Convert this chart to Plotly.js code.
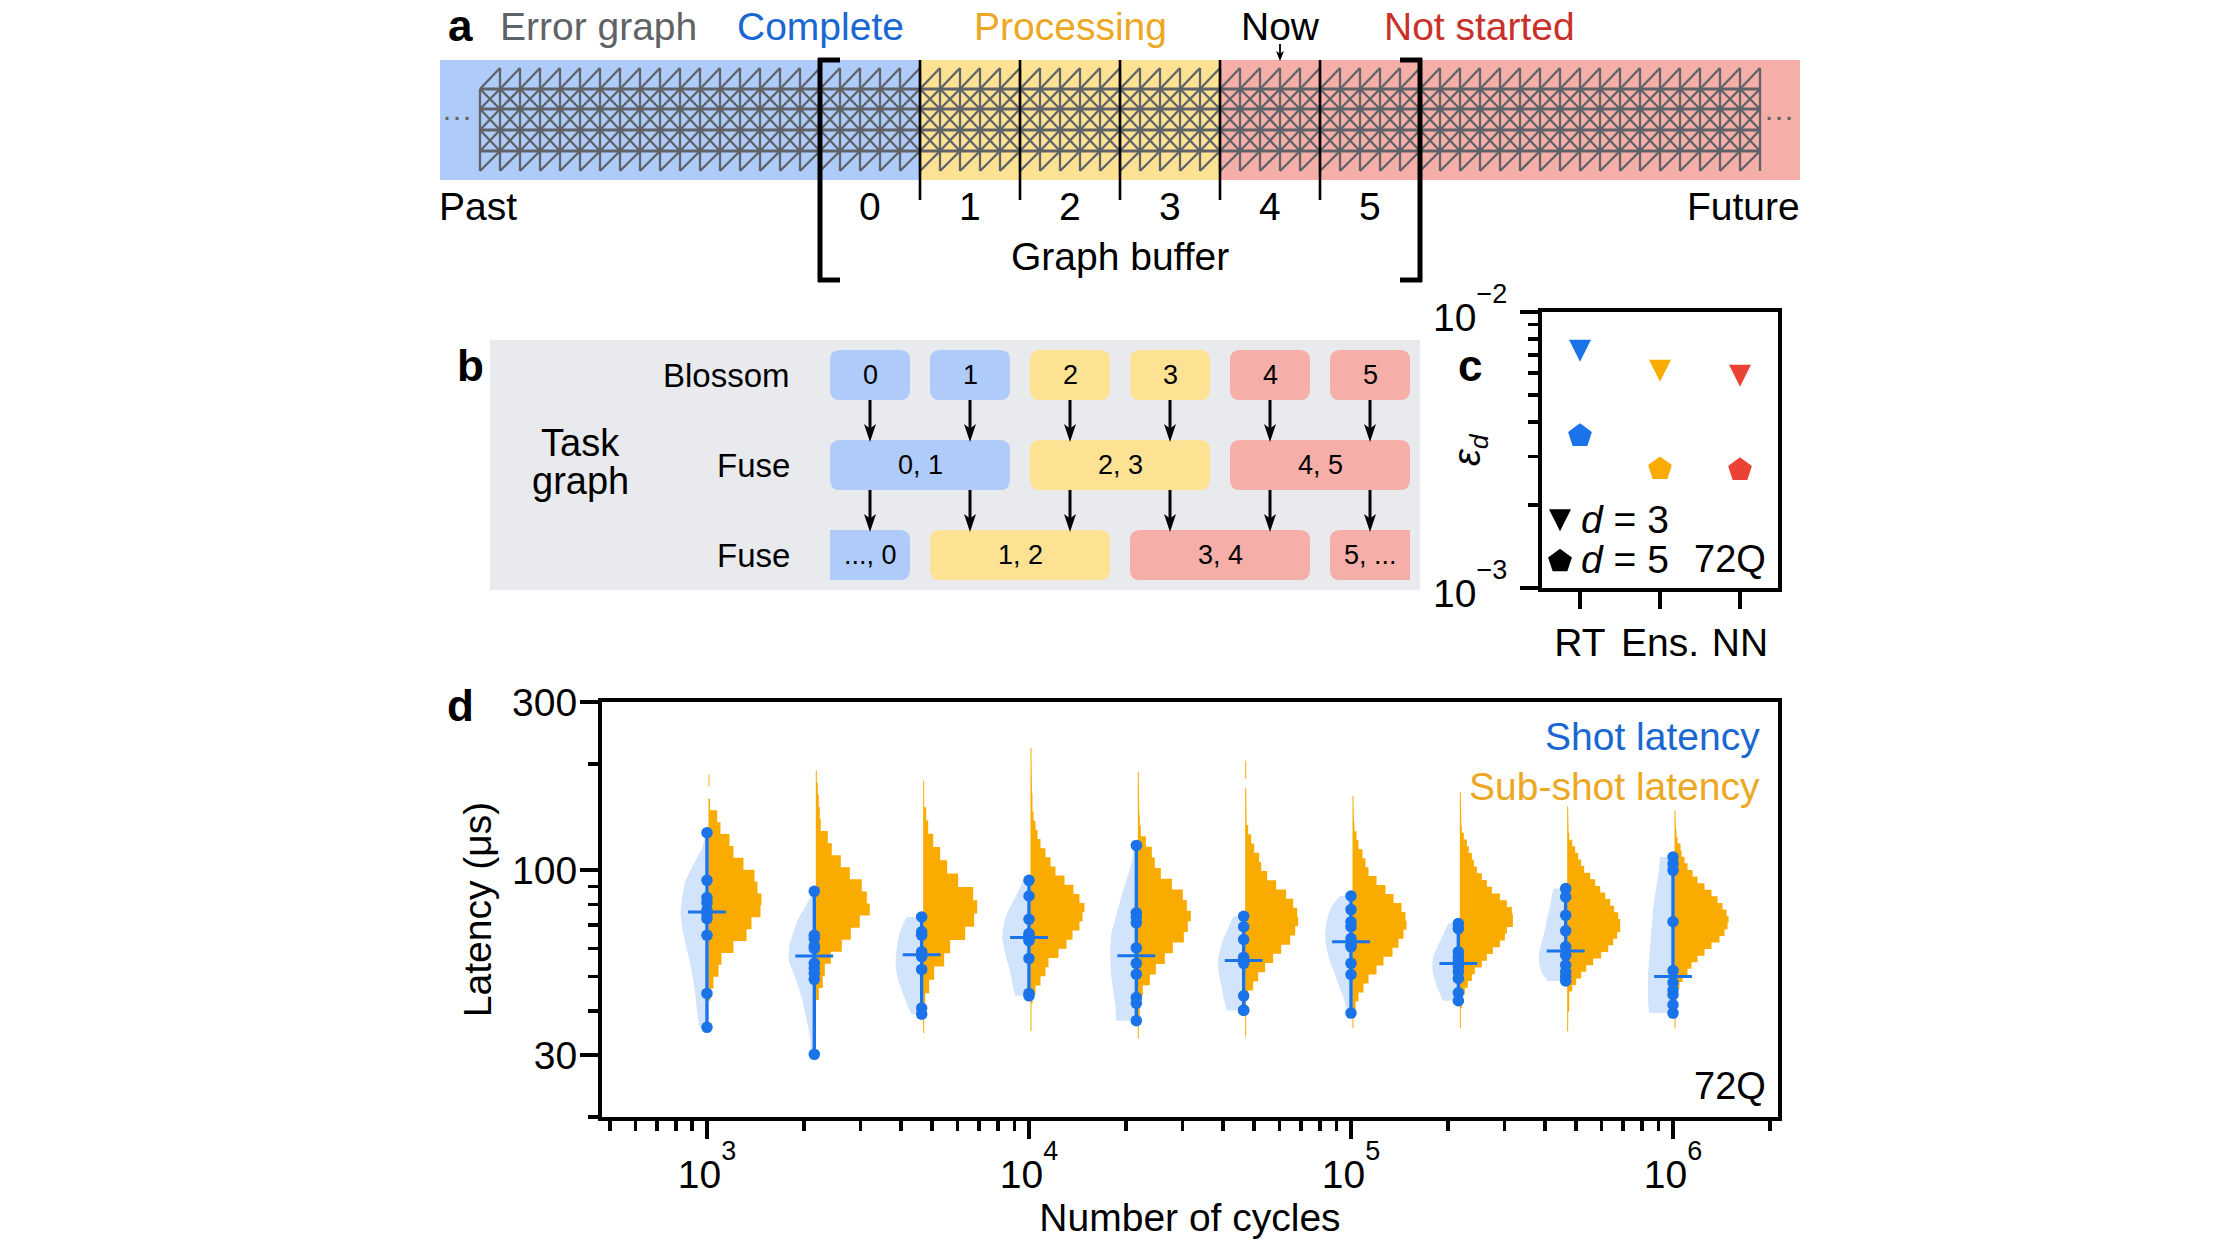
<!DOCTYPE html>
<html><head><meta charset="utf-8">
<script src="https://cdn.plot.ly/plotly-3.0.1.min.js"></script>
<style>html,body{margin:0;padding:0;background:#fff}#p{width:2240px;height:1260px}</style>
</head><body><div id="p"></div>
<script>
// ---------- colours
const BLUE='#1a73e8', YEL='#f9ab00', RED='#ea4335', GREY='#5f6368';
const TXT_BLUE='#1967d2', TXT_YEL='#eca824', TXT_RED='#c9302a';
const L_BLUE='#aecbfa', L_YEL='#fde293', L_RED='#f6aea9', PANEL='#e8eaed', VIOLIN='#d2e3fc';

// ---------- panel c: logical error per round
const decoders=['RT','Ens.','NN'];
const decoderColors=[BLUE,YEL,RED];
const epsD3=[7.24e-3,6.13e-3,5.88e-3];
const epsD5=[3.56e-3,2.70e-3,2.68e-3];

// ---------- panel d: latency vs number of cycles
const cycles=[1000,2154,4642,10000,21544,46416,100000,215443,464159,1000000];
const shotLatency=[
 [127.8,93.7,83.7,80.9,77.1,75.4,73.0,65.5,44.8,35.9],
 [87.2,65.5,64.1,61.0,60.1,54.5,52.8,51.1,49.1,30.1],
 [73.8,67.0,65.5,58.8,57.9,57.5,56.9,52.4,40.7,39.1],
 [93.7,84.6,72.7,66.2,65.1,64.0,63.2,56.3,44.8,44.1],
 [117.7,75.8,73.8,71.0,60.3,54.5,50.8,43.6,42.0,37.5],
 [74.1,69.2,63.7,56.7,55.9,55.2,54.5,44.1,40.2,40.1],
 [84.6,77.4,71.5,69.2,64.1,61.4,60.7,54.5,50.7,39.4],
 [70.7,68.4,58.8,56.9,55.7,53.3,51.6,49.4,45.0,42.7],
 [88.8,84.1,74.6,67.4,60.7,57.5,53.9,51.6,50.0,48.6],
 [109.1,104.4,100,71.5,52.0,48.1,45.8,44.4,41.6,39.4]
];
// half-violin widths, evenly spaced in log latency from the largest to the smallest shot
const shotViolin=[
 [1,5,14,22,25,26.5,24.5,21,17,14,11.5,10,7.5],
 [1,8,16,21,25,26,21,16,12,9,6,4,3],
 [15,19,22,24,25,26,26,25,23,20,17,14,10],
 [6,10,15,20,24,26,27,25,23,20,18,16,14],
 [3,4,8,13,17,21,25,26,26,25,23,21,20],
 [10,14,17,21,23,25,26,25,24,22,21,19,17],
 [11,19,23,25,26,25,23,20,16,13,9,6,3],
 [10,13,16,19,22,25,26,26,25,23,21,18,16],
 [12,14,15,17,19,20,22,24,26,27,26,24,18],
 [13,14,16,18,20,21,22,23,24,25,25,25,24]
];
// sub-shot histograms: latency span of the bins and bin heights
const subTop=[186.7,191.6,179.6,223,189.6,204.5,162.9,166.4,151.6,147.7];
const subBottom=[42.8,42.9,34.6,35,33.4,33.8,35.7,35.7,35,35.7];
const subCounts=[
 [1,0,1.5,8.7,12,21,25,35,46,49,53,52,43,38,25,13,10,5,2],
 [1,2,3,4,5,12,16,25,34,46,51,54,44,35,26,15,9,7,3],
 [1,1,3,5,10,17,24,35,50,54,51,42,27,21,11,6,2,1,1],
 [1,1,1,1,1.5,2,2,3,5,7,10,15,20,25,34,43,49,54,52,49,42,36,28,18,15,10,5,2,1,1,1],
 [1,1,1,1.5,2,3,8,14,17,23,34,45,49,53,50,46,35,27,18,12,5,2,2,1,1],
 [1,1,0,1,1,1,1.5,3,6,9,14,16,22,31,41,48,52,53,50,45,36,28,20,13,8,3,1,1,1,1],
 [1,1,1.5,2,4,6,10,13,16,24,33,41,49,53,54,51,46,40,31,24,16,11,6,3,1,1],
 [1,1,1,1,1.5,2,4,7,9,12,14,17,22,27,32,40,47,52,53,53,47,45,40,33,27,22,15,12,8,5,3,2,1,1,1],
 [1,1,1,1.5,2,5,8,11,14,17,23,28,33,38,43,47,51,53,53,50,46,41,34,26,19,14,9,5,2,2,2,1,1,1],
 [1,1,1.5,2,3,6,7,10,13,18,23,30,37,43,48,52,54,53,50,45,37,30,23,17,13,8,5,2,2,1,1,1,1]
];

// ---------- panels a, b: schematic (page units on a full-page axis)
const sliceLabels=['0','1','2','3','4','5'];
const sliceStatus=[L_BLUE,L_BLUE,L_YEL,L_YEL,L_RED,L_RED];
const sliceEdges=[820,920,1020,1120,1220,1320,1420];
const fuseA=[['0, 1',0,1],['2, 3',2,3],['4, 5',4,5]];
const fuseB=[['..., 0',0,0],['1, 2',1,2],['3, 4',3,4],['5, ...',5,5]];
const fuseBColors=[L_BLUE,L_YEL,L_RED,L_RED];
const latticeRows=[89,109,130,151];

// ---------- axis ticks
const PX_PER_DECADE=322;
const decadeMinors=(lo,hi)=>{const o=[];for(let e=lo;e<=hi;e++)for(let m=2;m<=9;m++)o.push(m*Math.pow(10,e));return o;};
const powerLabel=(e)=>`10<sup><sup><span style="font-size:27px">${e}</span></sup></sup>`;

const traces=[];
// ---- error graph lattice
(function(){
 const hx=[],hy=[],dx=[],dy=[];
 const x0=480,x1=1760,step=20,top=68,bot=171;
 latticeRows.forEach(r=>{hx.push(x0,x1,null);hy.push(r,r,null);});
 const R=latticeRows;
 for(let x=x0;x<=x1;x+=step){
  dx.push(x,x,null);dy.push(R[0],R[3],null);
  dx.push(x,x,null);dy.push(R[3],bot,null);
  if(x<x1){
   dx.push(x,x+step,null);dy.push(R[0],top,null);
   dx.push(x+step,x+step,null);dy.push(top,R[0],null);
   dx.push(x,x+step,null);dy.push(bot,R[3],null);
   for(let i=0;i<3;i++){
    dx.push(x,x+step,null);dy.push(R[i],R[i+1],null);
    dx.push(x,x+step,null);dy.push(R[i+1],R[i],null);
   }
  }
 }
 traces.push({x:dx,y:dy,mode:'lines',line:{color:GREY,width:2.3},xaxis:'x',yaxis:'y'});
 traces.push({x:hx,y:hy,mode:'lines',line:{color:GREY,width:3},xaxis:'x',yaxis:'y'});
})();

// ---- panel c: d=3 down-triangles are filled on the axes so that they stay as tall as they are wide
const TRI_X=11/80, TRI_Y=Math.pow(10,11/276);
const downTriangle=(cat,val,col)=>({x:[cat-TRI_X,cat+TRI_X,cat,cat-TRI_X],y:[val*TRI_Y,val*TRI_Y,val/TRI_Y,val*TRI_Y],mode:'lines',fill:'toself',fillcolor:col,line:{width:0,color:col},xaxis:'x2',yaxis:'y2'});
epsD3.forEach((v,i)=>traces.push(downTriangle(i,v,decoderColors[i])));
traces.push({x:[0,1,2],y:epsD5,mode:'markers',xaxis:'x2',yaxis:'y2',marker:{symbol:'pentagon',size:25,color:decoderColors}});
traces.push(downTriangle(-0.25,1.76e-3,'#000'));
traces.push({x:[-0.25],y:[1.25e-3],mode:'markers',xaxis:'x2',yaxis:'y2',marker:{symbol:'pentagon',size:25,color:'#000'}});

// ---- panel d
const shiftX=(c,px)=>c*Math.pow(10,px/PX_PER_DECADE);
cycles.forEach((c,g)=>{
 const pts=shotLatency[g], hi=Math.max(...pts), lo=Math.min(...pts);
 // violin
 const w=shotViolin[g], vx=[c], vy=[hi];
 w.forEach((v,i)=>{vx.push(shiftX(c,-v));vy.push(hi*Math.pow(lo/hi,i/(w.length-1)));});
 vx.push(c);vy.push(lo);
 traces.push({x:vx,y:vy,mode:'lines',fill:'toself',fillcolor:VIOLIN,line:{width:0,color:VIOLIN},xaxis:'x3',yaxis:'y3'});
 // histogram
 const cnt=subCounts[g], n=cnt.length, hx=[c],hy=[subTop[g]];
 const base=shiftX(c,1.5);
 cnt.forEach((v,i)=>{
  const e0=subTop[g]*Math.pow(subBottom[g]/subTop[g],i/n), e1=subTop[g]*Math.pow(subBottom[g]/subTop[g],(i+1)/n);
  hx.push(shiftX(base,v),shiftX(base,v));hy.push(e0,e1);
 });
 hx.push(base,base);hy.push(subBottom[g],subTop[g]);
 traces.push({x:hx,y:hy,mode:'lines',fill:'toself',fillcolor:YEL,line:{width:0,color:YEL},xaxis:'x3',yaxis:'y3'});
 // range line, points, median
 traces.push({x:[c,c],y:[hi,lo],mode:'lines',line:{color:BLUE,width:3.4},xaxis:'x3',yaxis:'y3'});
 traces.push({x:pts.map(()=>c),y:pts,mode:'markers',marker:{color:BLUE,size:11.5},xaxis:'x3',yaxis:'y3'});
 const s=[...pts].sort((a,b)=>a-b), med=Math.sqrt(s[4]*s[5]);
 traces.push({x:[c],y:[med],mode:'markers',marker:{symbol:'line-ew',size:27,line:{color:BLUE,width:3}},xaxis:'x3',yaxis:'y3'});
});

// ---------- shapes
const shapes=[];
const rect=(x0,x1,y0,y1,fill,layer)=>shapes.push({type:'rect',xref:'x',yref:'y',x0,x1,y0,y1,fillcolor:fill,line:{width:0},layer:layer||'below'});
const line=(x0,y0,x1,y1,w)=>shapes.push({type:'line',xref:'x',yref:'y',x0,y0,x1,y1,line:{color:'#000',width:w},layer:'above'});
const rrect=(x0,x1,y0,y1,fill,rl,rr)=>{
 const p=`M${x0+rl},${y0} L${x1-rr},${y0} Q${x1},${y0} ${x1},${y0+rr} L${x1},${y1-rr} Q${x1},${y1} ${x1-rr},${y1} L${x0+rl},${y1} Q${x0},${y1} ${x0},${y1-rl} L${x0},${y0+rl} Q${x0},${y0} ${x0+rl},${y0} Z`;
 shapes.push({type:'path',xref:'x',yref:'y',path:p,fillcolor:fill,line:{width:0},layer:'below'});
};
const arrow=(x,y0,y1,w,hw,hl)=>{
 line(x,y0,x,y1-hl*0.5,w);
 shapes.push({type:'path',xref:'x',yref:'y',path:`M${x},${y1} L${x-hw},${y1-hl} L${x},${y1-hl*0.75} L${x+hw},${y1-hl} Z`,fillcolor:'#000',line:{width:0},layer:'above'});
};
// panel a bands
rect(440,920,60,180,L_BLUE);
rect(920,1220,60,180,L_YEL);
rect(1220,1800,60,180,L_RED);
// dividers
sliceEdges.slice(1,-1).forEach(x=>line(x,60,x,200,2.6));
// brackets
const BW=5;
line(820,58,820,282,BW);line(818,60,840,60,BW);line(818,280,840,280,BW);
line(1420,58,1420,282,BW);line(1400,60,1422,60,BW);line(1400,280,1422,280,BW);
// now arrow
arrow(1280,44,61,1.8,4,10);
// panel b
rect(490,1420,340,590,PANEL);
const cx=i=>830+100*i+40;
sliceLabels.forEach((s,i)=>rrect(cx(i)-40,cx(i)+40,350,400,sliceStatus[i],10,10));
fuseA.forEach(([t,a,b])=>rrect(cx(a)-40,cx(b)+40,440,490,sliceStatus[a],10,10));
fuseB.forEach(([t,a,b],k)=>{
 const rl=(k===0)?0.01:10, rr=(k===fuseB.length-1)?0.01:10;
 rrect(cx(a)-40,cx(b)+40,530,580,fuseBColors[k],rl,rr);
});
sliceLabels.forEach((s,i)=>{arrow(cx(i),400,442,3,6,18);arrow(cx(i),490,532,3,6,18);});

// ---------- annotations
const ann=[];
const FAM='Liberation Sans, Arial, sans-serif';
const T=(text,x,y,o)=>{o=o||{};ann.push({text,x,y,xref:'x',yref:'y',showarrow:false,xanchor:o.a||'center',yanchor:'middle',
 textangle:o.rot||0,font:{family:FAM,size:o.s||39,color:o.c||'#000',weight:o.w||'normal'}});};
T('a',460,25,{s:44,w:'bold'});T('b',470,365,{s:44,w:'bold'});T('c',1470,365,{s:44,w:'bold'});T('d',460,705,{s:44,w:'bold'});
T('Error graph',598,26,{c:GREY});
T('Complete',820,26,{c:TXT_BLUE});
T('Processing',1070,26,{c:TXT_YEL});
T('Now',1280,26);
T('Not started',1479,26,{c:TXT_RED});
T('Past',437,206,{a:'left'});T('Future',1802,206,{a:'right'});
T('Graph buffer',1120,256);
T('···',457,115,{s:30,c:GREY});T('···',1779,115,{s:30,c:GREY});
sliceLabels.forEach((s,i)=>{T(s,cx(i),206);T(s,cx(i),375,{s:27});});
fuseA.forEach(([t,a,b])=>T(t,(cx(a)+cx(b))/2,465,{s:27}));
fuseB.forEach(([t,a,b])=>T(t,(cx(a)+cx(b))/2,555,{s:27}));
T('Blossom',792,375,{a:'right',s:33});T('Fuse',792,465,{a:'right',s:33});T('Fuse',792,555,{a:'right',s:33});
T('Task',580,443,{s:38});T('graph',580,481,{s:38});
T('<i>ε<sub>d</sub></i>',1470,450,{rot:-90,s:38});
T('<i>d</i> = 3',1625,519);T('<i>d</i> = 5',1625,559);T('72Q',1768,559,{a:'right',s:38});
T('Shot latency',1762,736,{a:'right',c:TXT_BLUE});
T('Sub-shot latency',1762,786,{a:'right',c:TXT_YEL});
T('72Q',1768,1086,{a:'right',s:38});

const axBase={showgrid:false,zeroline:false,showline:true,mirror:true,linecolor:'#000',linewidth:4,ticks:'outside',tickcolor:'#000',
 tickfont:{family:FAM,size:39,color:'#000'}};
const minor=(vals)=>({tickvals:vals,ticks:'outside',ticklen:10,tickwidth:3.5,tickcolor:'#000',showgrid:false});

const layout={
 width:2240,height:1260,margin:{l:0,r:0,t:0,b:0},paper_bgcolor:'#fff',plot_bgcolor:'rgba(0,0,0,0)',showlegend:false,hovermode:false,dragmode:false,
 font:{family:FAM,color:'#000'},
 xaxis:{domain:[0,1],range:[0,2240],visible:false,fixedrange:true},
 yaxis:{domain:[0,1],range:[1260,0],visible:false,fixedrange:true},
 xaxis2:Object.assign({},axBase,{domain:[1542/2240,1778/2240],anchor:'y2',range:[-0.475,2.475],tickmode:'array',tickvals:[0,1,2],ticktext:decoders,ticklen:17,tickwidth:4,ticklabelstandoff:0}),
 yaxis2:Object.assign({},axBase,{domain:[1-588/1260,1-312/1260],anchor:'x2',type:'log',range:[-3,-2],tickmode:'array',tickvals:[1e-3,1e-2],ticktext:[powerLabel('−3'),powerLabel('−2')],ticklen:18,tickwidth:4,ticklabelstandoff:5,ticklabelshift:5,minor:minor(decadeMinors(-3,-3))}),
 xaxis3:Object.assign({},axBase,{domain:[602/2240,1778/2240],anchor:'y3',type:'log',range:[2.674,6.326],tickmode:'array',tickvals:[1e3,1e4,1e5,1e6],ticktext:[3,4,5,6].map(powerLabel),ticklen:18,tickwidth:4,ticklabelstandoff:2,minor:minor(decadeMinors(2,6).filter(v=>v>=500&&v<=2e6)),
  title:{text:'Number of cycles',font:{family:FAM,size:39,color:'#000'},standoff:2}}),
 yaxis3:Object.assign({},axBase,{domain:[1-1117/1260,1-702/1260],anchor:'x3',type:'log',range:[Math.log10(20),Math.log10(300)],tickmode:'array',tickvals:[30,100,300],ticktext:['30','100','300'],ticklen:18,tickwidth:4,ticklabelstandoff:-5,minor:minor([20,40,50,60,70,80,90,200]),
  title:{text:'Latency (μs)',font:{family:FAM,size:39,color:'#000'},standoff:9}}),
 shapes:shapes,annotations:ann
};
Plotly.newPlot('p',traces,layout,{staticPlot:true,displayModeBar:false});
</script></body></html>
